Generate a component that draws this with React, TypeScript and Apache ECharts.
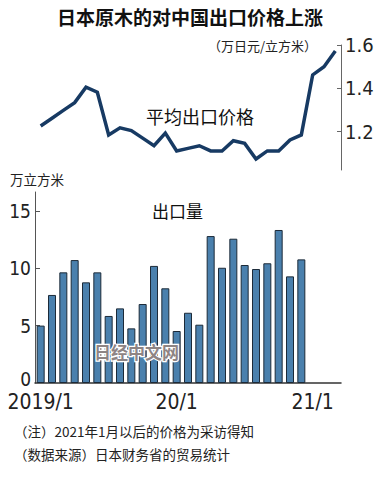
import React, { useEffect, useRef } from "react";
import * as echarts from "echarts";

const months = [
  "2019/1", "2019/2", "2019/3", "2019/4", "2019/5", "2019/6", "2019/7", "2019/8", "2019/9",
  "2019/10", "2019/11", "2019/12", "2020/1", "2020/2", "2020/3", "2020/4", "2020/5", "2020/6",
  "2020/7", "2020/8", "2020/9", "2020/10", "2020/11", "2020/12", "2021/1", "2021/2", "2021/3",
];

// 平均出口价格 (万日元/立方米)
const priceValues = [
  1.226, 1.262, 1.298, 1.334, 1.405, 1.382, 1.185, 1.218, 1.205, 1.17, 1.135, 1.193, 1.111,
  1.123, 1.135, 1.111, 1.111, 1.158, 1.146, 1.074, 1.111, 1.111, 1.162, 1.185, 1.462, 1.5, 1.572,
];

// 出口量 (万立方米)
const volumeValues = [
  5.0, 7.67, 9.64, 10.71, 8.77, 9.64, 5.84, 6.5, 4.76, 6.88, 10.2, 8.25, 4.53, 6.12, 5.08,
  12.8, 10.04, 12.57, 10.28, 9.93, 10.43, 13.33, 9.29, 10.77,
];

const priceTicks = [1.2, 1.4, 1.6];
const volumeTicks = [0, 5, 10, 15];
const xTickLabels: Record<string, string> = { "2019/1": "2019/1", "2020/1": "20/1", "2021/1": "21/1" };

const CJK = '"Noto Sans CJK SC", sans-serif';
const NUM = '"Liberation Sans Narrow", "DejaVu Sans Condensed", sans-serif';

export default function App() {
  const ref = useRef<HTMLDivElement>(null);
  useEffect(() => {
    if (!ref.current) return;
    const chart = echarts.init(ref.current, undefined, { renderer: "svg" });
    chart.setOption({
      animation: false,
      backgroundColor: "#ffffff",
      grid: [
        { left: 35, width: 306, top: 45, height: 125 },
        { left: 35, width: 306, top: 192, height: 191 },
      ],
      xAxis: [
        {
          type: "category",
          gridIndex: 0,
          data: months,
          boundaryGap: true,
          axisLine: { show: false },
          axisTick: { show: false },
          axisLabel: { show: false },
        },
        {
          type: "category",
          gridIndex: 1,
          data: months,
          boundaryGap: true,
          axisLine: { show: true, lineStyle: { color: "#333", width: 1.5 } },
          axisTick: { show: false },
          axisLabel: {
            interval: (i: number, v: string) => v in xTickLabels,
            formatter: (v: string) => xTickLabels[v] ?? "",
            fontFamily: NUM,
            fontSize: 21,
            lineHeight: 21,
            color: "#222",
            margin: 8,
          },
        },
      ],
      yAxis: [
        {
          type: "value",
          gridIndex: 0,
          position: "right",
          min: 1.023,
          max: 1.6,
          splitLine: { show: false },
          axisLine: { show: true, lineStyle: { color: "#666", width: 1 } },
          axisTick: { show: true, inside: true, length: 4, customValues: priceTicks, lineStyle: { color: "#666" } },
          axisLabel: {
            customValues: priceTicks,
            formatter: (v: number) => v.toFixed(1),
            fontFamily: NUM,
            fontSize: 20,
            color: "#222",
            margin: 4,
          },
        },
        {
          type: "value",
          gridIndex: 1,
          position: "left",
          min: 0,
          max: 16.64,
          splitLine: { show: false },
          axisLine: { show: true, lineStyle: { color: "#555", width: 1 } },
          axisTick: { show: true, inside: true, length: 5, customValues: volumeTicks.slice(1), lineStyle: { color: "#555" } },
          axisLabel: {
            customValues: volumeTicks,
            formatter: (v: number) => (v === 0 ? "{z|0}" : String(v)),
            fontFamily: NUM,
            fontSize: 19,
            lineHeight: 15,
            color: "#222",
            margin: 4,
            rich: {
              z: { fontFamily: NUM, fontSize: 19, lineHeight: 15, color: "#222", padding: [0, 0, 8, 0] },
            },
          },
        },
      ],
      series: [
        {
          type: "line",
          xAxisIndex: 0,
          yAxisIndex: 0,
          data: priceValues,
          symbol: "none",
          lineStyle: { color: "#173a63", width: 3.5, join: "miter" },
        },
        {
          type: "bar",
          xAxisIndex: 1,
          yAxisIndex: 1,
          data: volumeValues,
          barWidth: 8,
          itemStyle: { color: "#4a80ad", borderColor: "#1c2a38", borderWidth: 1 },
        },
      ],
      graphic: [
        {
          type: "text",
          left: "center",
          top: 7,
          style: { text: "日本原木的对中国出口价格上涨", fontFamily: CJK, fontSize: 19, fontWeight: "bold", fill: "#111" },
        },
        {
          type: "text",
          x: 208,
          y: 39,
          style: { text: "（万日元/立方米）", fontFamily: CJK, fontSize: 13, fill: "#222" },
        },
        {
          type: "text",
          x: 146,
          y: 107,
          style: { text: "平均出口价格", fontFamily: CJK, fontSize: 18, fill: "#111" },
        },
        {
          type: "text",
          x: 10,
          y: 172,
          style: { text: "万立方米", fontFamily: CJK, fontSize: 13.5, fill: "#222" },
        },
        {
          type: "text",
          x: 152,
          y: 202,
          style: { text: "出口量", fontFamily: CJK, fontSize: 17, fill: "#111" },
        },
        {
          type: "text",
          x: 94,
          y: 343,
          z: 100,
          style: {
            text: "日经中文网",
            fontFamily: CJK,
            fontSize: 17,
            fontWeight: "bold",
            fill: "#8e8484",
            stroke: "#ffffff",
            lineWidth: 2.5,
          },
        },
        {
          type: "text",
          x: 14,
          y: 424,
          style: { text: "（注）2021年1月以后的价格为采访得知", fontFamily: CJK, fontSize: 13.5, fill: "#222" },
        },
        {
          type: "text",
          x: 14,
          y: 447,
          style: { text: "（数据来源）日本财务省的贸易统计", fontFamily: CJK, fontSize: 13.5, fill: "#222" },
        },
      ],
    });
    return () => chart.dispose();
  }, []);
  return (
    <div
      ref={ref}
      style={{ position: "fixed", left: 0, top: 0, width: 380, height: 482, background: "#fff" }}
    />
  );
}
